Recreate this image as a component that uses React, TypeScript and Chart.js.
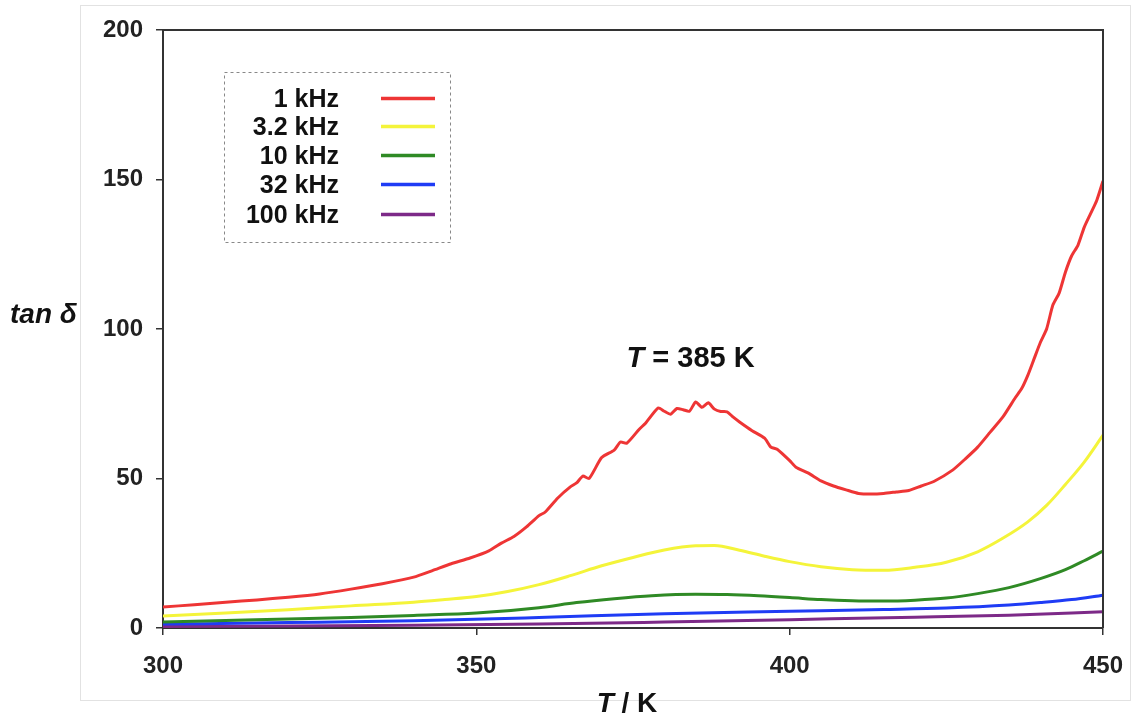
import React, { useEffect, useRef } from "react";
import { Chart, registerables } from "chart.js";

Chart.register(...registerables);

// Series labels and colours
const seriesLabels = ["1 kHz", "3.2 kHz", "10 kHz", "32 kHz", "100 kHz"];
const seriesColors = ["#ee3535", "#f4f43a", "#2f8a25", "#1f3cf5", "#7d2a88"];

// Axis ticks
const xTicks = [300, 350, 400, 450];
const yTicks = [0, 50, 100, 150, 200];

// 1 kHz
const t1k = [300, 305, 310, 315, 320, 325, 330, 335, 340, 343, 346, 349, 352, 354, 356, 358, 360, 361, 363, 365, 366, 367, 368, 370, 372, 373, 374, 376, 377, 379, 380, 381, 382, 383, 384, 385, 386, 387, 388, 389, 390, 391, 392, 394, 396, 397, 398, 400, 401, 403, 405, 407, 409, 411, 413, 415, 417, 419, 421, 423, 426, 428, 430, 432, 434, 436, 437, 438, 439, 440, 441, 442, 443, 444, 445, 446, 447, 448, 449, 450];
const v1k = [7.0, 7.8, 8.6, 9.4, 10.3, 11.4, 13.0, 14.8, 17.0, 19.2, 21.5, 23.4, 25.8, 28.4, 30.6, 33.8, 37.6, 38.8, 43.5, 47.2, 48.5, 50.8, 50.0, 57.0, 59.5, 62.2, 61.8, 66.5, 68.5, 73.6, 72.5, 71.5, 73.4, 73.0, 72.5, 75.6, 73.8, 75.3, 73.2, 72.4, 72.3, 70.5, 68.9, 66.0, 63.5, 60.5, 59.8, 56.0, 53.8, 51.8, 49.2, 47.5, 46.2, 45.0, 44.8, 45.0, 45.5, 46.0, 47.5, 49.0, 52.8, 56.5, 60.5, 65.5, 70.5, 77.0, 80.0, 84.5, 90.0, 95.5, 100.0, 108.0, 112.0, 119.0, 124.5, 128.0, 134.0, 138.5, 143.0, 149.5];

// 3.2 kHz
const t3k = [300, 310, 320, 330, 340, 345, 350, 355, 360, 365, 370, 375, 380, 385, 388, 392, 396, 400, 405, 410, 415, 420, 425, 430, 434, 438, 441, 444, 447, 450];
const v3k = [4.0, 5.0, 6.1, 7.4, 8.6, 9.5, 10.5, 12.2, 14.5, 17.5, 20.8, 23.6, 26.1, 27.5, 27.6, 26.0, 24.0, 22.2, 20.5, 19.5, 19.3, 20.3, 22.0, 25.5, 30.0, 35.5, 41.0, 48.0, 55.5, 64.5];

// 10 kHz
const t10k = [300, 310, 320, 330, 340, 350, 360, 366, 372, 378, 385, 390, 395, 400, 405, 410, 415, 420, 425, 430, 435, 440, 444, 447, 450];
const v10k = [2.0, 2.5, 3.0, 3.5, 4.2, 5.0, 6.8, 8.5, 9.8, 10.8, 11.3, 11.2, 10.8, 10.2, 9.5, 9.1, 9.0, 9.3, 10.0, 11.5, 13.5, 16.5, 19.5, 22.5, 25.7];

// 32 kHz
const t32k = [300, 320, 340, 360, 380, 400, 415, 425, 435, 440, 445, 450];
const v32k = [1.3, 1.8, 2.4, 3.5, 4.8, 5.6, 6.2, 6.7, 7.7, 8.5, 9.5, 11.0];

// 100 kHz
const t100k = [300, 320, 340, 360, 380, 400, 420, 435, 450];
const v100k = [0.5, 0.7, 0.9, 1.3, 2.0, 2.8, 3.6, 4.3, 5.4];

const seriesT = [t1k, t3k, t10k, t32k, t100k];
const seriesV = [v1k, v3k, v10k, v32k, v100k];

const annotationText = { T: 385, label: "T", rest: " = 385 K" };

const FONT = "'Liberation Sans', Arial, Helvetica, sans-serif";

const decorPlugin = {
  id: "decor",
  beforeDraw(chart: any) {
    const ctx = chart.ctx;
    ctx.save();
    ctx.fillStyle = "#ffffff";
    ctx.fillRect(0, 0, chart.width, chart.height);
    ctx.strokeStyle = "#e2e2e2";
    ctx.lineWidth = 1;
    ctx.strokeRect(80.5, 5.5, 1050, 695);
    ctx.restore();
  },
  afterDraw(chart: any) {
    const ctx = chart.ctx;
    const { left, right, top, bottom } = chart.chartArea;
    ctx.save();
    // top and right frame
    ctx.strokeStyle = "#333";
    ctx.lineWidth = 2;
    ctx.beginPath();
    ctx.moveTo(left, top);
    ctx.lineTo(right, top);
    ctx.lineTo(right, bottom);
    ctx.stroke();

    // legend box
    ctx.setLineDash([3, 3]);
    ctx.strokeStyle = "#888";
    ctx.lineWidth = 1;
    ctx.strokeRect(224.5, 72.5, 226, 170);
    ctx.setLineDash([]);
    const baselines = [107, 135, 164, 193, 223];
    ctx.font = `bold 25px ${FONT}`;
    ctx.textAlign = "right";
    ctx.textBaseline = "alphabetic";
    chart.data.datasets.forEach((ds: any, i: number) => {
      ctx.fillStyle = "#111";
      ctx.fillText(ds.label, 339, baselines[i]);
      ctx.strokeStyle = ds.borderColor;
      ctx.lineWidth = 3.5;
      ctx.beginPath();
      const ly = baselines[i] - 8.5;
      ctx.moveTo(381, ly);
      ctx.lineTo(435, ly);
      ctx.stroke();
    });

    // annotation
    const xs = chart.scales.x;
    const cx = xs.getPixelForValue(annotationText.T) - 5;
    ctx.fillStyle = "#111";
    ctx.textAlign = "left";
    ctx.font = `italic bold 29px ${FONT}`;
    const w1 = ctx.measureText(annotationText.label).width;
    ctx.font = `bold 29px ${FONT}`;
    const w2 = ctx.measureText(annotationText.rest).width;
    const sx = cx - (w1 + w2) / 2;
    ctx.font = `italic bold 29px ${FONT}`;
    ctx.fillText(annotationText.label, sx, 367);
    ctx.font = `bold 29px ${FONT}`;
    ctx.fillText(annotationText.rest, sx + w1, 367);

    // y axis title
    ctx.font = `italic bold 28px ${FONT}`;
    ctx.textAlign = "left";
    ctx.fillText("tan δ", 10, 323);

    // x axis title
    ctx.font = `italic bold 28px ${FONT}`;
    const a = ctx.measureText("T").width;
    ctx.font = `bold 28px ${FONT}`;
    const b = ctx.measureText(" / K").width;
    const xc = (left + right) / 2 - 6;
    const x0 = xc - (a + b) / 2;
    ctx.font = `italic bold 28px ${FONT}`;
    ctx.fillText("T", x0, 712);
    ctx.font = `bold 28px ${FONT}`;
    ctx.fillText(" / K", x0 + a, 712);
    ctx.restore();
  },
};

export default function App() {
  const ref = useRef<HTMLCanvasElement | null>(null);
  useEffect(() => {
    if (!ref.current) return;
    const datasets = seriesLabels.map((label, i) => ({
      label,
      data: seriesT[i].map((t, j) => ({ x: t, y: seriesV[i][j] })),
      borderColor: seriesColors[i],
      backgroundColor: seriesColors[i],
      borderWidth: 3,
      pointRadius: 0,
      fill: false,
      tension: i === 0 ? 0.2 : 0.4,
      cubicInterpolationMode: i === 0 ? "default" : "monotone",
    }));
    const chart = new Chart(ref.current, {
      type: "line",
      data: { datasets: datasets as any },
      options: {
        responsive: false,
        animation: false,
        devicePixelRatio: 1,
        layout: { padding: { left: 80, right: 31, top: 30, bottom: 0 } },
        plugins: { legend: { display: false }, tooltip: { enabled: false } },
        scales: {
          x: {
            type: "linear",
            min: 300,
            max: 450,
            afterFit: (s: any) => { s.height = 96; s.paddingLeft = 0; s.paddingRight = 0; },
            afterBuildTicks: (s: any) => { s.ticks = xTicks.map((v) => ({ value: v })); },
            ticks: {
              color: "#222",
              font: { family: FONT, size: 24, weight: "bold" },
              padding: 17,
              maxRotation: 0,
            },
            grid: { drawOnChartArea: false, drawTicks: true, tickLength: 7, color: "#333", lineWidth: 1.5 },
            border: { display: true, color: "#333", width: 2 },
          },
          y: {
            type: "linear",
            min: 0,
            max: 200,
            afterFit: (s: any) => { s.width = 83; s.paddingTop = 0; s.paddingBottom = 0; },
            afterBuildTicks: (s: any) => { s.ticks = yTicks.map((v) => ({ value: v })); },
            ticks: {
              color: "#222",
              font: { family: FONT, size: 24, weight: "bold" },
              padding: 13,
            },
            grid: { drawOnChartArea: false, drawTicks: true, tickLength: 7, color: "#333", lineWidth: 1.5 },
            border: { display: true, color: "#333", width: 2 },
          },
        },
      },
      plugins: [decorPlugin],
    });
    return () => chart.destroy();
  }, []);
  return (
    <div style={{ position: "fixed", left: 0, top: 0, width: 1134, height: 724, background: "#fff" }}>
      <canvas ref={ref} width={1134} height={724} style={{ width: 1134, height: 724, display: "block" }} />
    </div>
  );
}
